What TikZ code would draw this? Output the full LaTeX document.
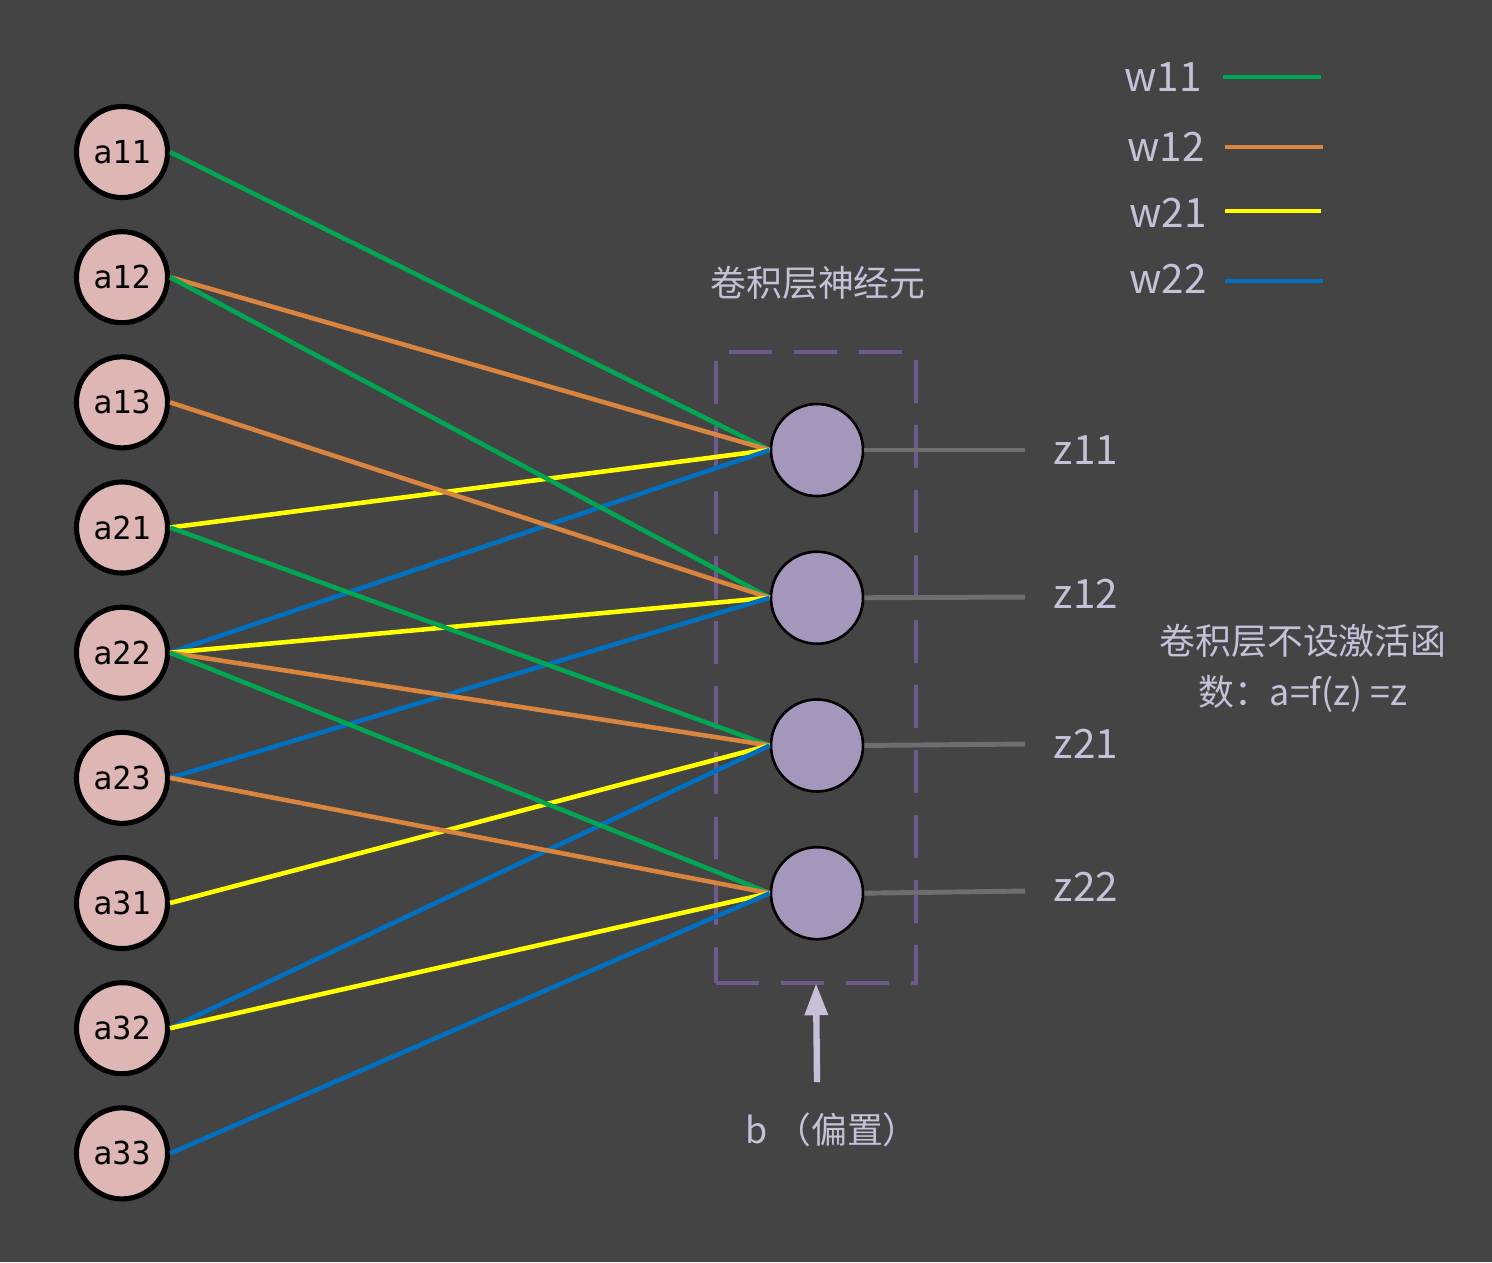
\documentclass[tikz,border=0pt]{standalone}
\usepackage{fontspec}
\setmainfont{Noto Sans CJK SC}
\newfontfamily\monofont{DejaVu Sans Mono}
\usepackage{xcolor}
\usetikzlibrary{positioning,arrows.meta}

\definecolor{bgcol}{HTML}{444444}
\definecolor{pinkcol}{HTML}{DEB7B5}
\definecolor{neucol}{HTML}{A597BC}
\definecolor{txtcol}{HTML}{C8BFD9}
\definecolor{dashcol}{HTML}{6E5A8C}
\definecolor{graycol}{HTML}{6E6E6E}
\definecolor{wgreen}{HTML}{00A651}
\definecolor{worange}{HTML}{D9843F}
\definecolor{wyellow}{HTML}{FFFF00}
\definecolor{wblue}{HTML}{0070C0}

\begin{document}
\begin{tikzpicture}[x=0.01cm,y=-0.01cm,
        inp/.style={circle, draw=black, line width=1.45pt, fill=pinkcol, minimum size=0.91cm, inner sep=0pt, font=\monofont\fontsize{9}{10}\selectfont},
        neuron/.style={circle, draw=black, line width=0.75pt, fill=neucol, minimum size=0.92cm, inner sep=0pt},
        lbl/.style={text=txtcol, font=\fontsize{11.5}{13}\selectfont},
        cjk/.style={text=txtcol, font=\fontsize{10.2}{14.5}\selectfont},
        w11/.style={draw=wgreen, line width=1.3pt},
        w12/.style={draw=worange, line width=1.3pt},
        w21/.style={draw=wyellow, line width=1.3pt},
        w22/.style={draw=wblue, line width=1.3pt},
        outline/.style={draw=graycol, line width=1.4pt}
    ]
        \useasboundingbox[fill=bgcol] (0,0) rectangle (1492,1262);

        % Convolution layer box
        \node[draw=dashcol, line width=1pt, dash pattern=on 12.2pt off 6.3pt, minimum width=2cm, minimum height=6.31cm, outer sep=0pt] (layer) at (816,667.5) {};
        \node[cjk] (title) at (818,283) {卷积层神经元};

        % Inputs
        \node[inp] (a11) at (122,152) {a11};
        \node[inp, below=0.29cm of a11] (a12) {a12};
        \node[inp, below=0.29cm of a12] (a13) {a13};
        \node[inp, below=0.29cm of a13] (a21) {a21};
        \node[inp, below=0.29cm of a21] (a22) {a22};
        \node[inp, below=0.29cm of a22] (a23) {a23};
        \node[inp, below=0.29cm of a23] (a31) {a31};
        \node[inp, below=0.29cm of a31] (a32) {a32};
        \node[inp, below=0.29cm of a32] (a33) {a33};

        % Neurons
        \node[neuron] (z11) at (817,450) {};
        \node[neuron, below=0.53cm of z11] (z12) {};
        \node[neuron, below=0.53cm of z12] (z21) {};
        \node[neuron, below=0.53cm of z21] (z22) {};

        % Weights
        \draw[w11] (a11.east) -- (z11.west);
        \draw[w12] (a12.east) -- (z11.west);
        \draw[w21] (a21.east) -- (z11.west);
        \draw[w22] (a22.east) -- (z11.west);
        \draw[w11] (a12.east) -- (z12.west);
        \draw[w12] (a13.east) -- (z12.west);
        \draw[w21] (a22.east) -- (z12.west);
        \draw[w22] (a23.east) -- (z12.west);
        \draw[w11] (a21.east) -- (z21.west);
        \draw[w12] (a22.east) -- (z21.west);
        \draw[w21] (a31.east) -- (z21.west);
        \draw[w22] (a32.east) -- (z21.west);
        \draw[w11] (a22.east) -- (z22.west);
        \draw[w12] (a23.east) -- (z22.west);
        \draw[w21] (a32.east) -- (z22.west);
        \draw[w22] (a33.east) -- (z22.west);

        % Outputs
        \coordinate (e11) at (1025,450);
        \coordinate (e12) at (1025,597);
        \coordinate (e21) at (1025,744);
        \coordinate (e22) at (1025,891);
        \draw[outline] (z11.east) -- (e11);
        \draw[outline] (z12.east) -- (e12);
        \draw[outline] (z21.east) -- (e21);
        \draw[outline] (z22.east) -- (e22);
        \node[lbl] (o11) at (1086,450) {z11};
        \node[lbl] (o12) at (1086,594) {z12};
        \node[lbl] (o21) at (1086,744) {z21};
        \node[lbl] (o22) at (1086,887) {z22};

        \node[cjk, align=center] (note) at (1303,668) {卷积层不设激活函\\数：a=f(z) =z};

        % Bias
        \node[cjk] (bias) at (832,1130) {b （偏置）};
        \coordinate (bstart) at (817,1082);
        \draw[draw=txtcol, line width=1.8pt, -{Triangle[length=0.32cm, width=0.22cm]}] (bstart) -- (layer.south);

        % Legend
        \node[lbl] (lw11) at (1163,77) {w11};
        \node[lbl] (lw12) at (1166,147) {w12};
        \node[lbl] (lw21) at (1168,213) {w21};
        \node[lbl] (lw22) at (1168,279) {w22};
        \coordinate (l11) at (1223,77);   \coordinate (r11) at (1321,77);
        \coordinate (l12) at (1225,147);  \coordinate (r12) at (1323,147);
        \coordinate (l21) at (1225,211);  \coordinate (r21) at (1321,211);
        \coordinate (l22) at (1225,281);  \coordinate (r22) at (1323,281);
        \draw[w11, line width=1.4pt] (l11) -- (r11);
        \draw[w12, line width=1.4pt] (l12) -- (r12);
        \draw[w21, line width=1.4pt] (l21) -- (r21);
        \draw[w22, line width=1.4pt] (l22) -- (r22);

\end{tikzpicture}
\end{document}
